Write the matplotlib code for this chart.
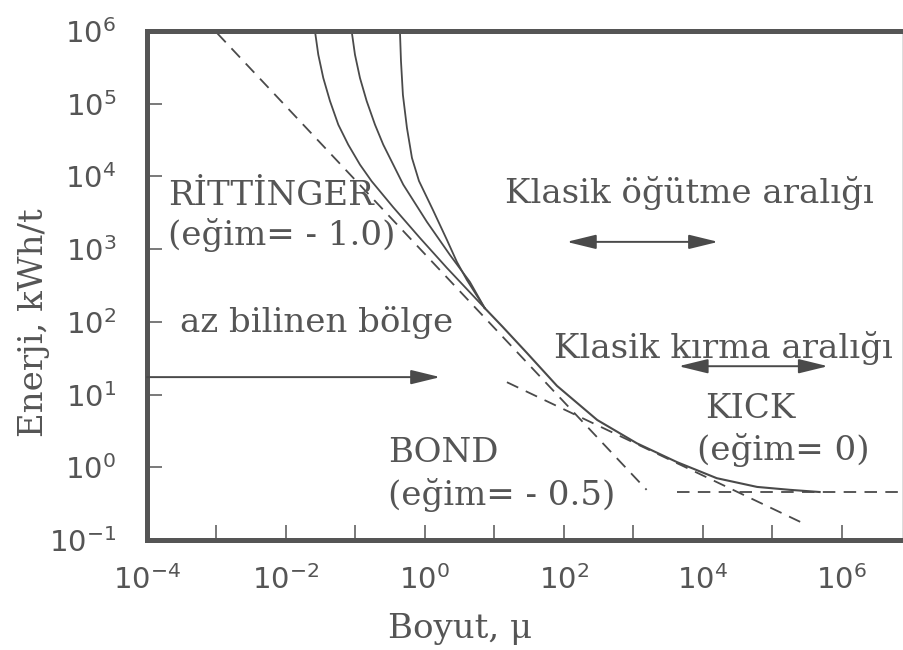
import numpy as np
import matplotlib
matplotlib.use("Agg")
import matplotlib.pyplot as plt

W, H = 904, 650
INK = "#555555"
LINE = "#4a4a4a"
SERIF = "DejaVu Serif"

# curves, stored as log10(size in micron) / log10(kWh/t)
curve_a_logx = [-1.583, -1.535, -1.463, -1.367, -1.247, -1.104, -0.935, -0.767, -0.46, -0.072, 0.317, 0.86]
curve_a_logy = [6.0, 5.675, 5.354, 5.038, 4.712, 4.437, 4.162, 3.934, 3.58, 3.154, 2.741, 2.19]
curve_b_logx = [-1.055, -1.007, -0.935, -0.839, -0.719, -0.60, -0.456, -0.312, 0.029, 0.36, 0.647, 0.86]
curve_b_logy = [6.0, 5.675, 5.354, 5.038, 4.712, 4.437, 4.162, 3.887, 3.374, 2.92, 2.549, 2.19]
curve_c_logx = [-0.36, -0.345, -0.317, -0.259, -0.187, -0.086, 0.115, 0.317, 0.46, 0.604, 0.86]
curve_c_logy = [6.0, 5.589, 5.121, 4.667, 4.255, 3.938, 3.539, 3.126, 2.824, 2.576, 2.19]
main_logx = [0.86, 1.12, 1.47, 1.90, 2.48, 3.05, 3.63, 4.20, 4.78, 5.25, 5.68]
main_logy = [2.19, 1.93, 1.57, 1.12, 0.65, 0.33, 0.07, -0.15, -0.27, -0.31, -0.34]

# dashed asymptotes (start, end)
rittinger_logx = [-2.99, 3.19]
rittinger_logy = [5.97, -0.31]
bond_logx = [1.18, 5.40]
bond_logy = [1.17, -0.75]
kick_logx = [3.63, 7.0]
kick_logy = [-0.34, -0.34]

# arrows: (x0, x1, y) in log10 units
arrow_az = (-4.0, 0.22, 1.24)
arrow_ogutme = (2.04, 4.22, 3.10)
arrow_kirma = (3.65, 5.80, 1.39)

x_ticks = list(range(-4, 7))
y_ticks = list(range(-1, 7))

plt.rcParams["lines.scale_dashes"] = False


def pos(x, y):
    return x / W, 1 - y / H


fig = plt.figure(figsize=(W / 100, H / 100), dpi=100)
ax = fig.add_axes([147 / W, 110 / H, 756 / W, 509 / H])
ax.set_xscale("log")
ax.set_yscale("log")
ax.set_xlim(1e-4, 10 ** 6.88)
ax.set_ylim(1e-1, 1e6)

p = lambda v: 10.0 ** np.asarray(v)

for cx, cy in [(curve_a_logx, curve_a_logy), (curve_b_logx, curve_b_logy), (curve_c_logx, curve_c_logy)]:
    ax.plot(p(cx), p(cy), color=LINE, lw=1.3, solid_joinstyle="round")
ax.plot(p(main_logx), p(main_logy), color=LINE, lw=1.5, solid_joinstyle="round")

dash = (0, (9, 6))
for lx, ly in [(rittinger_logx, rittinger_logy), (bond_logx, bond_logy), (kick_logx, kick_logy)]:
    ax.plot(p(lx), p(ly), color=LINE, lw=1.3, linestyle=dash)


def arrow(a, style):
    x0, x1, y = a
    ax.annotate("", xy=(10 ** x1, 10 ** y), xytext=(10 ** x0, 10 ** y),
                arrowprops=dict(arrowstyle=style, color=LINE, lw=1.4,
                                shrinkA=0, shrinkB=0, mutation_scale=20))


arrow(arrow_az, "-|>,head_length=0.9,head_width=0.22")
arrow(arrow_ogutme, "<|-|>,head_length=0.9,head_width=0.22")
arrow(arrow_kirma, "<|-|>,head_length=0.9,head_width=0.22")

# frame
for side in ["left", "top", "bottom"]:
    ax.spines[side].set_linewidth(3.6)
    ax.spines[side].set_color(INK)
    ax.spines[side].set_capstyle("projecting")
ax.spines["right"].set_linewidth(1.0)
ax.spines["right"].set_color(INK)

ax.set_xticks([10.0 ** e for e in x_ticks],
              [r"$\mathregular{10^{%d}}$" % e if e % 2 == 0 else "" for e in x_ticks])
ax.set_yticks([10.0 ** e for e in y_ticks],
              [r"$\mathregular{10^{%d}}$" % e for e in y_ticks])
ax.minorticks_off()
ax.tick_params(direction="in", length=10.8, width=1.1, color=INK, labelcolor=INK,
               labelsize=21)
ax.tick_params(axis="y", pad=22)
ax.tick_params(axis="x", pad=18)

txt = dict(family=SERIF, color=INK, fontsize=24.5, va="baseline", ha="left")
fig.text(*pos(168, 205), "RİTTİNGER", **txt)
fig.text(*pos(168, 245), "(eğim= - 1.0)", **txt)
fig.text(*pos(180, 332), "az bilinen bölge", **txt)
fig.text(*pos(505, 203), "Klasik öğütme aralığı", **txt)
fig.text(*pos(554, 358), "Klasik kırma aralığı", **txt)
fig.text(*pos(705, 418), "KICK", **txt)
fig.text(*pos(697, 460), "(eğim= 0)", **txt)
fig.text(*pos(388, 462), "BOND", **txt)
fig.text(*pos(388, 505), "(eğim= - 0.5)", **txt)
fig.text(*pos(388, 638), "Boyut, μ", **txt)
fig.text(*pos(50, 323), "Enerji, kWh/t", family=SERIF, color=INK, fontsize=24.5,
         rotation=90, ha="right", va="center")

fig.savefig("out.png", dpi=100, facecolor="white")
